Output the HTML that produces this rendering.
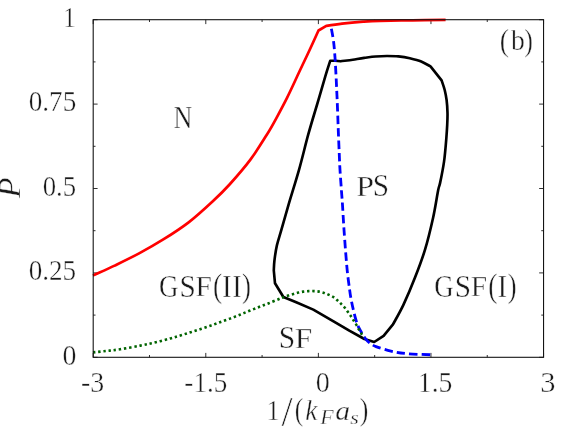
<!DOCTYPE html>
<html>
<head>
<meta charset="utf-8">
<title>Phase diagram (b)</title>
<style>
html,body{margin:0;padding:0;background:#fff;}
body{width:570px;height:429px;overflow:hidden;}
svg{display:block;}
text{font-family:"Liberation Serif",serif;fill:#1a1a1a;stroke:#ffffff;stroke-width:0.4px;paint-order:fill stroke;}
</style>
</head>
<body>
<svg width="570" height="429" viewBox="0 0 570 429">
<rect x="0" y="0" width="570" height="429" fill="#ffffff"/>
<path d="M93.20,357.30v-4.4M93.20,19.70v4.4M149.49,357.30v-2.3M149.49,19.70v2.3M205.79,357.30v-4.4M205.79,19.70v4.4M262.08,357.30v-2.3M262.08,19.70v2.3M318.38,357.30v-4.4M318.38,19.70v4.4M374.67,357.30v-2.3M374.67,19.70v2.3M430.96,357.30v-4.4M430.96,19.70v4.4M487.26,357.30v-2.3M487.26,19.70v2.3M543.55,357.30v-4.4M543.55,19.70v4.4M93.20,19.70h4.4M543.55,19.70h-4.4M93.20,61.90h2.3M543.55,61.90h-2.3M93.20,104.10h4.4M543.55,104.10h-4.4M93.20,146.30h2.3M543.55,146.30h-2.3M93.20,188.50h4.4M543.55,188.50h-4.4M93.20,230.70h2.3M543.55,230.70h-2.3M93.20,272.90h4.4M543.55,272.90h-4.4M93.20,315.10h2.3M543.55,315.10h-2.3M93.20,357.30h4.4M543.55,357.30h-4.4" fill="none" stroke="#1a1a1a" stroke-width="0.9"/>
<g fill="none" stroke-linejoin="round">
<path stroke="#ff0000" stroke-width="2.7" d="M93.0,275.6 C96.6,273.9 106.9,269.3 114.6,265.6 C122.3,261.9 130.9,257.8 139.1,253.4 C147.3,249.0 155.5,244.3 163.7,239.2 C171.9,234.1 180.1,228.9 188.3,222.6 C196.5,216.3 205.9,207.6 212.8,201.2 C219.8,194.8 223.7,191.0 230.0,184.0 C236.3,177.0 244.5,167.6 250.6,159.4 C256.7,151.2 262.4,141.7 266.8,134.7 C271.2,127.7 273.5,123.4 276.8,117.3 C280.1,111.2 283.5,104.9 286.9,98.1 C290.3,91.3 293.8,83.6 297.2,76.3 C300.6,69.0 303.9,62.1 307.5,54.5 C311.1,46.9 316.7,34.5 318.5,30.5 L326.3,25.9 C328.9,25.5 336.0,24.4 342.1,23.7 C348.2,23.0 356.9,22.2 363.2,21.7 C369.5,21.2 371.8,21.0 380.0,20.8 C388.2,20.6 401.7,20.5 412.6,20.3 C423.5,20.1 440.1,20.0 445.6,19.9"/>
<path stroke="#000000" stroke-width="2.65" d="M330.2,60.8 L335.1,60.7 L340.7,61.3 C342.7,61.0 348.9,60.3 352.8,59.7 C356.7,59.1 360.4,58.4 364.2,57.9 C368.0,57.4 371.8,56.8 375.6,56.5 C379.4,56.2 383.2,56.0 387.0,56.0 C390.8,56.0 394.6,56.0 398.4,56.4 C402.2,56.8 406.0,57.4 409.8,58.3 C413.6,59.2 417.8,60.2 421.2,61.6 C424.6,63.0 428.9,65.6 430.5,66.4 L441.6,80.3 C442.1,81.9 443.9,86.7 444.7,90.0 C445.5,93.3 446.1,96.2 446.6,100.0 C447.1,103.8 447.4,108.8 447.5,113.0 C447.6,117.2 447.4,120.9 447.2,125.0 C447.0,129.1 446.9,131.2 446.4,137.4 C445.9,143.6 445.1,154.3 444.0,161.9 C442.9,169.5 441.1,178.2 440.1,182.9 C439.1,187.6 439.4,184.2 438.2,190.0 C437.0,195.8 435.3,207.8 433.1,217.7 C430.9,227.6 428.1,239.5 425.1,249.4 C422.1,259.3 418.8,267.9 415.2,277.1 C411.6,286.4 407.1,297.0 403.4,304.9 C399.7,312.8 394.7,321.1 393.0,324.4 L383.6,335.8 L374.2,342.0 L364.4,339.0 L349.3,330.6 L336.1,322.8 L313.3,309.6 L296.2,302.3 L283.4,297.0 L275.0,283.3 L273.8,270.5 C273.9,268.9 273.9,265.0 274.4,260.8 C274.9,256.6 275.7,250.6 276.9,245.4 C278.1,240.2 279.6,236.2 281.5,229.4 C283.4,222.7 285.6,214.8 288.5,204.9 C291.4,195.0 295.7,181.6 299.0,169.9 C302.3,158.2 305.2,145.6 308.2,134.7 C311.2,123.8 314.2,114.2 317.1,104.5 C320.0,94.8 323.1,83.6 325.3,76.3 C327.5,69.0 329.4,63.4 330.2,60.8 Z"/>
<path stroke="#0000ff" stroke-width="2.8" stroke-dasharray="8.4 4.05" d="M331.4,28.8 C331.8,31.0 333.0,36.9 333.6,41.7 C334.2,46.5 334.6,52.0 335.0,57.5 C335.4,63.0 335.7,69.6 336.0,75.0 C336.3,80.4 336.5,85.2 336.7,90.0 C336.9,94.8 337.1,97.2 337.3,103.5 C337.6,109.8 337.9,119.8 338.2,128.0 C338.5,136.2 338.9,145.4 339.2,152.4 C339.5,159.4 339.6,163.7 340.0,170.0 C340.4,176.3 341.0,184.2 341.4,190.0 C341.8,195.8 342.1,198.3 342.5,204.9 C342.9,211.5 343.3,219.2 344.0,229.6 C344.7,240.0 346.0,257.2 346.9,267.2 C347.8,277.2 348.9,284.1 349.6,289.6 C350.3,295.1 350.7,297.0 351.3,300.3 C351.9,303.6 352.4,306.0 353.2,309.2 C353.9,312.4 354.9,316.5 355.8,319.5 C356.7,322.5 357.5,324.8 358.6,327.2 C359.7,329.6 361.0,331.6 362.2,333.6 C363.4,335.6 364.8,337.9 366.0,339.4 C367.2,340.9 367.9,341.6 369.6,342.8 C371.3,344.0 372.4,345.2 376.0,346.6 C379.6,348.0 385.7,349.9 390.9,351.1 C396.1,352.3 400.5,353.1 407.2,353.7 C413.9,354.3 426.9,354.6 430.8,354.8"/>
<path stroke="#006400" stroke-width="2.6" stroke-dasharray="2.4 2.8" d="M93.0,352.4 C95.2,352.2 101.5,351.5 106.0,351.0 C110.5,350.5 114.3,350.2 120.0,349.3 C125.7,348.4 134.4,346.8 140.4,345.6 C146.4,344.4 150.8,343.5 155.8,342.3 C160.8,341.1 166.3,339.6 170.5,338.4 C174.7,337.2 177.7,336.2 181.1,335.2 C184.5,334.2 187.5,333.2 190.8,332.2 C194.1,331.2 197.4,330.1 200.7,329.0 C204.0,327.9 207.3,326.8 210.5,325.7 C213.7,324.6 216.8,323.4 220.0,322.2 C223.2,321.0 226.7,319.9 230.0,318.6 C233.3,317.4 236.8,316.0 240.0,314.7 C243.2,313.4 246.2,312.1 249.5,310.8 C252.8,309.5 256.3,308.1 259.5,306.8 C262.7,305.5 265.7,304.5 268.9,303.2 C272.1,301.9 276.2,300.2 278.5,299.2 C280.8,298.2 281.3,298.0 282.9,297.4 C284.5,296.8 286.4,296.2 288.2,295.6 C289.9,295.0 291.7,294.5 293.4,294.0 C295.1,293.5 296.7,293.0 298.4,292.6 C300.1,292.2 301.7,291.9 303.4,291.6 C305.1,291.4 306.9,291.2 308.7,291.1 C310.4,291.0 312.2,291.0 313.9,291.1 C315.6,291.2 317.3,291.3 319.0,291.6 C320.7,291.9 322.5,292.3 324.2,292.9 C325.9,293.4 327.4,294.2 329.0,294.9 C330.6,295.6 332.1,296.3 333.5,297.2 C334.9,298.1 336.3,299.4 337.6,300.5 C338.9,301.6 340.1,302.9 341.3,304.1 C342.5,305.3 343.8,306.5 344.9,307.9 C346.0,309.2 347.1,310.8 348.1,312.2 C349.1,313.6 350.1,314.9 351.0,316.3 C351.9,317.7 352.9,319.4 353.8,320.8 C354.7,322.2 355.5,323.4 356.4,324.9 C357.3,326.4 358.1,328.2 359.0,329.7 C359.9,331.2 360.7,332.5 361.5,333.8 C362.3,335.1 363.6,336.9 364.0,337.5"/>
</g>
<rect x="93.20" y="19.70" width="450.35" height="337.60" fill="none" stroke="#141414" stroke-width="1.1"/>
<g opacity="0.999">
<text transform="translate(62.99,27.00) scale(0.8746,1)" font-size="29.40">1</text>
<text transform="translate(28.71,111.40) scale(0.9247,1)" font-size="29.40">0.75</text>
<text transform="translate(42.73,196.00) scale(0.9099,1)" font-size="29.40">0.5</text>
<text transform="translate(28.71,280.30) scale(0.9226,1)" font-size="29.40">0.25</text>
<text transform="translate(62.39,364.70) scale(0.9475,1)" font-size="29.40">0</text>
<text transform="translate(81.02,392.40) scale(0.9488,1)" font-size="29.40">-3</text>
<text transform="translate(184.35,392.40) scale(0.9235,1)" font-size="29.40">-1.5</text>
<text transform="translate(315.68,392.40) scale(0.9556,1)" font-size="29.40">0</text>
<text transform="translate(417.81,392.40) scale(0.9414,1)" font-size="29.40">1.5</text>
<text transform="translate(540.18,392.40) scale(1.0370,1)" font-size="29.40">3</text>
<text transform="translate(173.62,127.90) scale(0.8426,0.9876)" font-size="31.00">N</text>
<text transform="translate(356.34,195.80) scale(1.0309,0.9751)" font-size="31.00">P</text>
<text transform="translate(372.80,195.89) scale(0.9452,1.0159)" font-size="31.00">S</text>
<text transform="translate(278.68,347.98) scale(0.9527,1.0303)" font-size="31.00">S</text>
<text transform="translate(294.66,347.60) scale(1.0138,0.9751)" font-size="31.00">F</text>
<text transform="translate(159.02,296.58) scale(0.8685,1.0255)" font-size="31.00">G</text>
<text transform="translate(179.40,296.58) scale(0.9452,1.0255)" font-size="31.00">S</text>
<text transform="translate(195.52,296.40) scale(0.9480,0.9751)" font-size="31.00">F</text>
<text transform="translate(213.06,297.12) scale(0.8855,1.0573)" font-size="31.00">(</text>
<text transform="translate(222.08,296.50) scale(0.9373,0.9876)" font-size="31.00">I</text>
<text transform="translate(232.20,296.50) scale(0.9251,0.9876)" font-size="31.00">I</text>
<text transform="translate(241.89,297.12) scale(0.8685,1.0573)" font-size="31.00">)</text>
<text transform="translate(434.32,296.58) scale(0.8685,1.0255)" font-size="31.00">G</text>
<text transform="translate(454.70,296.58) scale(0.9452,1.0255)" font-size="31.00">S</text>
<text transform="translate(470.82,296.40) scale(0.9480,0.9751)" font-size="31.00">F</text>
<text transform="translate(488.36,297.12) scale(0.8855,1.0573)" font-size="31.00">(</text>
<text transform="translate(497.38,296.50) scale(0.9373,0.9876)" font-size="31.00">I</text>
<text transform="translate(507.70,297.12) scale(0.8561,1.0573)" font-size="31.00">)</text>
<text transform="translate(499.65,51.03) scale(0.8982,1.0394)" font-size="31.00">(</text>
<text transform="translate(511.00,50.01) scale(0.8906,0.9263)" font-size="31.00">b</text>
<text transform="translate(524.33,51.03) scale(0.8313,1.0394)" font-size="31.00">)</text>
<text transform="translate(266.43,419.70) scale(0.8762,0.9771)" font-size="30.00">1</text>
<text transform="translate(281.50,425.78) scale(1.3333,1.4035)" font-size="30.00">/</text>
<text transform="translate(294.85,419.67) scale(0.8497,1.0370)" font-size="30.00">(</text>
<text transform="translate(305.18,419.70) scale(0.9147,0.9614)" font-size="30.00" font-style="italic">k</text>
<text transform="translate(320.31,424.00) scale(1.0960,1.0231)" font-size="20.00" font-style="italic" style="stroke-width:0.35px">F</text>
<text transform="translate(335.31,419.74) scale(0.9922,0.8819)" font-size="30.00" font-style="italic">a</text>
<text transform="translate(350.37,423.62) scale(1.1014,0.9167)" font-size="20.00" font-style="italic" style="stroke-width:0.35px">s</text>
<text transform="translate(359.83,419.67) scale(0.8590,1.0370)" font-size="30.00">)</text>
<text transform="translate(19.90,197.93) rotate(-90) scale(1.0372,1)" font-size="32.52" font-style="italic">P</text>
</g>
</svg>
</body>
</html>
